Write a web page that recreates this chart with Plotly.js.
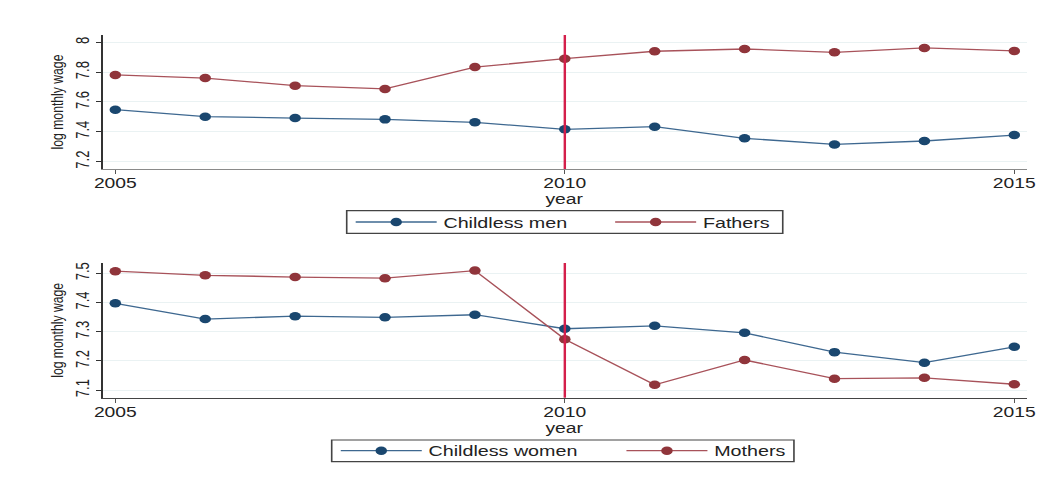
<!DOCTYPE html>
<html>
<head>
<meta charset="utf-8">
<script src="https://cdn.plot.ly/plotly-3.0.1.min.js"></script>
<style>
  html, body { margin: 0; padding: 0; background: #fff; overflow: hidden; }
  /* the figure is laid out at 783px and widened to the full 1057px page */
  #chart { width: 783px; height: 484px; transform: scaleX(1.35); transform-origin: 0 0; }
</style>
</head>
<body>
<div id="chart"></div>
<script>
// Survey years
const years = [2005, 2006, 2007, 2008, 2009, 2010, 2011, 2012, 2013, 2014, 2015];

// Mean log monthly wage, men
const childlessMen = [7.548, 7.501, 7.492, 7.483, 7.463, 7.416, 7.434, 7.356, 7.315, 7.338, 7.378];
const fathers      = [7.781, 7.760, 7.709, 7.687, 7.834, 7.890, 7.940, 7.955, 7.933, 7.962, 7.942];

// Mean log monthly wage, women
const childlessWomen = [7.397, 7.343, 7.353, 7.349, 7.358, 7.310, 7.320, 7.296, 7.230, 7.194, 7.248];
const mothers        = [7.507, 7.493, 7.487, 7.483, 7.509, 7.274, 7.118, 7.203, 7.139, 7.142, 7.120];

// Axis ticks
const xTicks = [2005, 2010, 2015];
const yTicksMen = [7.2, 7.4, 7.6, 7.8, 8];
const yTickTextMen = ['7.2', '7.4', '7.6', '7.8', '8'];
const yTicksWomen = [7.1, 7.2, 7.3, 7.4, 7.5];
const yTickTextWomen = ['7.1', '7.2', '7.3', '7.4', '7.5'];

// Year of the reform line
const reformYear = 2010;

const FONT = 'Liberation Sans, Arial, sans-serif';
const TEXT = '#222222';
const NAVY = '#1a476f', NAVY_LINE = '#3e6890';
const MAROON = '#90353b', MAROON_LINE = '#a8525a';
const REFORM = '#d41f4b';

function series(y, name, color, lineColor, xa, ya, legend) {
  return {
    type: 'scatter', mode: 'lines+markers',
    x: years, y: y, name: name,
    xaxis: xa, yaxis: ya, legend: legend,
    line: { color: lineColor, width: 1.3 },
    marker: { color: color, size: 8.5 },
    hovertemplate: name + '<br>%{x}: %{y:.3f}<extra></extra>'
  };
}

const data = [
  series(childlessMen, 'Childless men', NAVY, NAVY_LINE, 'x', 'y', 'legend'),
  series(fathers, 'Fathers', MAROON, MAROON_LINE, 'x', 'y', 'legend'),
  series(childlessWomen, 'Childless women', NAVY, NAVY_LINE, 'x2', 'y2', 'legend2'),
  series(mothers, 'Mothers', MAROON, MAROON_LINE, 'x2', 'y2', 'legend2')
];

const X_DOMAIN = [0.0972, 0.9713];

function xAxis(anchor, lineColor) {
  return {
    domain: X_DOMAIN, anchor: anchor,
    range: [2004.86, 2015.138],
    tickvals: xTicks, ticktext: xTicks.map(String),
    ticks: 'outside', ticklen: 4, tickwidth: 1, tickcolor: '#555',
    ticklabelstandoff: -3,
    showline: true, linecolor: lineColor, linewidth: 1.3,
    showgrid: false, zeroline: false, automargin: false,
    tickfont: { family: FONT, size: 14.3, color: TEXT }
  };
}

function yAxis(anchor, domain, range, vals, text) {
  return {
    domain: domain, anchor: anchor, range: range,
    tickvals: vals, ticktext: text, tickangle: -90,
    ticks: 'outside', ticklen: 4, tickwidth: 1, tickcolor: '#333',
    ticklabelstandoff: 0,
    showline: true, linecolor: '#333', linewidth: 1.3,
    showgrid: true, gridcolor: '#eaf2f3', gridwidth: 1.2, zeroline: false, automargin: false,
    tickfont: { family: FONT, size: 13, color: TEXT },
    title: { text: 'log monthly wage', font: { family: FONT, size: 12.2, color: TEXT }, standoff: 3 }
  };
}

// "year" caption centred under each x axis
function yearTitle(xa, ya, shift) {
  return {
    text: 'year', xref: xa + ' domain', yref: ya + ' domain', x: 0.5, y: 0,
    xanchor: 'center', yanchor: 'middle', yshift: shift, showarrow: false,
    font: { family: FONT, size: 14.3, color: TEXT }
  };
}

function legendBox(x0, x1, y0, y1) {
  return { type: 'rect', xref: 'paper', yref: 'paper', x0: x0, x1: x1, y0: y0, y1: y1,
           line: { color: '#444', width: 1.2 }, fillcolor: 'rgba(0,0,0,0)' };
}

function legendStyle(x, y, entry) {
  return {
    orientation: 'h', x: x, y: y, xanchor: 'left', yanchor: 'middle',
    bgcolor: 'rgba(0,0,0,0)', borderwidth: 0,
    font: { family: FONT, size: 14.6, color: TEXT },
    itemwidth: 60, entrywidth: entry, entrywidthmode: 'pixels',
    itemclick: false, itemdoubleclick: false
  };
}

const layout = {
  width: 783, height: 484,
  margin: { l: 0, r: 0, t: 0, b: 0, autoexpand: false },
  paper_bgcolor: '#ffffff', plot_bgcolor: '#ffffff',
  font: { family: FONT, color: TEXT },
  showlegend: true,
  xaxis: xAxis('y', '#8a8a8a'),
  yaxis: yAxis('x', [0.6508, 0.9277], [7.150, 8.049], yTicksMen, yTickTextMen),
  xaxis2: xAxis('y2', '#444'),
  yaxis2: yAxis('x2', [0.1783, 0.4566], [7.074, 7.535], yTicksWomen, yTickTextWomen),
  legend: legendStyle(0.3301, 0.5413, 117.2),
  legend2: legendStyle(0.3160, 0.0688, 136.6),
  annotations: [
    yearTitle('x', 'y', -29.5),
    yearTitle('x2', 'y2', -30)
  ],
  shapes: [
    { type: 'line', xref: 'x', yref: 'y domain', x0: reformYear, x1: reformYear, y0: 0, y1: 1,
      line: { color: REFORM, width: 1.8 } },
    { type: 'line', xref: 'x2', yref: 'y2 domain', x0: reformYear, x1: reformYear, y0: 0, y1: 1,
      line: { color: REFORM, width: 1.8 } },
    legendBox(0.3280, 0.7405, 0.5180, 0.5647),
    legendBox(0.3138, 0.7511, 0.0461, 0.0909)
  ]
};

Plotly.newPlot('chart', data, layout, { displayModeBar: false });
</script>
</body>
</html>
